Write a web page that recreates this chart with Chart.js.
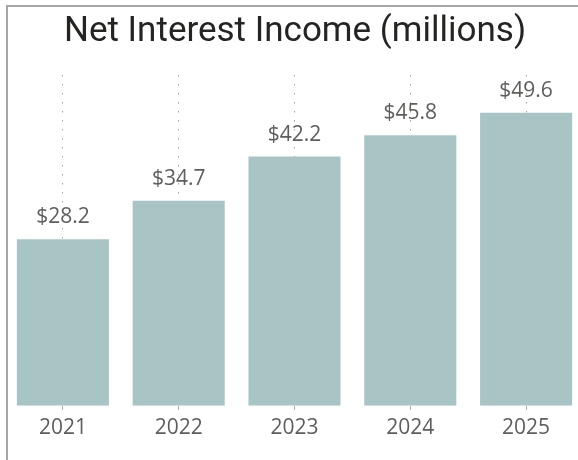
<!DOCTYPE html>
<html>
<head>
<meta charset="utf-8">
<script src="https://cdn.jsdelivr.net/npm/chart.js@4.4.1/dist/chart.umd.min.js"></script>
<style>
  html, body { margin: 0; padding: 0; background: #fff; }
  #wrap { position: relative; width: 578px; height: 460px; overflow: hidden; }
  #marco {
    position: absolute; left: 6px; top: 5px; right: 0; bottom: 0;
    border-top: 2px solid #a6a6a6; border-left: 2px solid #a6a6a6;
  }
  #grafico { position: absolute; left: 0; top: 0; }
</style>
</head>
<body>
<div id="wrap">
  <div id="marco"></div>
  <canvas id="grafico" width="586" height="460"></canvas>
</div>
<script>
// Datos del gráfico
const titulo = "Net Interest Income (millions)";
const anios = ["2021", "2022", "2023", "2024", "2025"];
const ingresos = [28.2, 34.7, 42.2, 45.8, 49.6];

const fuenteTexto = "'Open Sans', sans-serif";

// Titulo y etiquetas de valor dibujados a mano
const etiquetasPlugin = {
  id: "etiquetas",
  afterDatasetsDraw(chart) {
    const ctx = chart.ctx;
    ctx.save();
    ctx.fillStyle = "#605e5c";
    ctx.font = "21px " + fuenteTexto;
    ctx.textAlign = "center";
    ctx.textBaseline = "alphabetic";
    chart.getDatasetMeta(0).data.forEach(function (barra, i) {
      ctx.fillText("$" + ingresos[i].toFixed(1), barra.x, barra.y - 16);
    });

    ctx.fillStyle = "#252423";
    ctx.font = "400 35px Roboto, sans-serif";
    ctx.fillText(titulo, 295, 41);
    ctx.restore();
  },
};

let ctx = document.getElementById("grafico").getContext("2d");
let barChart = new Chart(ctx, {
  type: "bar",
  data: {
    labels: anios,
    datasets: [
      {
        data: ingresos,
        backgroundColor: "#a9c4c5",
        borderWidth: 0,
        categoryPercentage: 0.795,
        barPercentage: 1,
      },
    ],
  },
  options: {
    responsive: false,
    animation: false,
    layout: {
      padding: { top: 75, left: 5, right: 2, bottom: 13 },
    },
    plugins: {
      legend: { display: false },
      tooltip: { enabled: false },
      title: { display: false },
    },
    scales: {
      y: {
        display: false,
        min: 0,
        max: 56,
      },
      x: {
        grid: {
          offset: false,
          color: "#a8a6a4",
          lineWidth: 1,
          tickLength: 4,
        },
        border: { display: false, dash: [1.5, 7.5] },
        ticks: {
          color: "#605e5c",
          padding: 6,
          font: { family: fuenteTexto, size: 21 },
        },
      },
    },
  },
  plugins: [etiquetasPlugin],
});
</script>
</body>
</html>
